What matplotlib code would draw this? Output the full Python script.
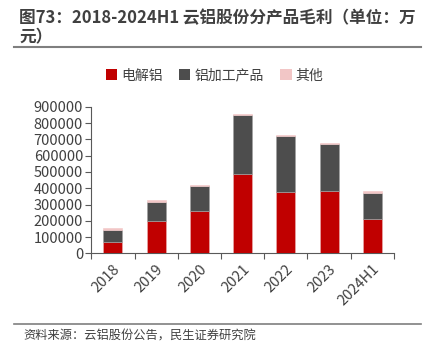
import matplotlib
matplotlib.use("Agg")
import matplotlib.pyplot as plt
import numpy as np
from matplotlib.lines import Line2D
from matplotlib.patches import Patch

plt.rcParams['font.family'] = ['Noto Sans CJK SC', 'DejaVu Sans']

categories = ["2018", "2019", "2020", "2021", "2022", "2023", "2024H1"]
electrolytic = [70000, 202000, 263000, 490000, 380000, 382000, 211000]
processed = [73000, 116000, 152000, 357000, 339000, 288000, 163000]
others = [14000, 11000, 6000, 8000, 8000, 8000, 10000]
series_names = ["电解铝", "铝加工产品", "其他"]
yticks = [0, 100000, 200000, 300000, 400000, 500000, 600000, 700000, 800000, 900000]

colors = ["#C00000", "#4D4D4D", "#F2C6C6"]

fig = plt.figure(figsize=(4.29, 3.56), dpi=100)
ax = fig.add_axes([0.213, 0.288, 0.705, 0.412])

x = np.arange(len(categories))
w = 0.44
e = np.array(electrolytic)
p = np.array(processed)
o = np.array(others)
ax.bar(x, e, w, color=colors[0], edgecolor="#e8b0b0", linewidth=0.4, zorder=3)
ax.bar(x, p, w, bottom=e, color=colors[1], edgecolor="#a0a0a0", linewidth=0.4, zorder=3)
ax.bar(x, o, w, bottom=e + p, color=colors[2], edgecolor=colors[2], linewidth=0.4, zorder=3)

ax.set_xlim(-0.5, len(categories) - 0.5)
ax.set_ylim(0, 900000)
ax.set_yticks(yticks)
ax.set_yticklabels([str(v) for v in yticks], fontsize=10.5, color="#404040")

ax.set_xticks(x)
ax.set_xticklabels(categories, rotation=45, ha="right", rotation_mode="anchor",
                   fontsize=10.5, color="#404040")
ax.tick_params(axis="x", length=0, pad=6)
ax.set_xticks(np.arange(-0.5, len(categories)), minor=True)
ax.tick_params(axis="x", which="minor", length=4, color="#595959", width=0.8)
ax.tick_params(axis="y", length=4, color="#595959", width=0.8, pad=2)

for s in ["top", "right"]:
    ax.spines[s].set_visible(False)
for s in ["left", "bottom"]:
    ax.spines[s].set_color("#595959")
    ax.spines[s].set_linewidth(0.8)

handles = [Patch(facecolor=c, edgecolor="none") for c in colors]
fig.legend(handles, series_names, loc="center", bbox_to_anchor=(0.5, 0.788),
           ncol=3, frameon=False, fontsize=10, handlelength=0.8, handleheight=0.8,
           handletextpad=0.3, columnspacing=1.2, labelcolor="#404040")

fig.text(0.045, 0.975, "图73：2018-2024H1 云铝股份分产品毛利（单位：万\n元）",
         fontsize=12, fontweight="bold", color="#404040", va="top", ha="left",
         linespacing=1.1)
fig.add_artist(Line2D([0.033, 0.982], [0.868, 0.868], color="#7f7f7f", lw=1.5))
fig.add_artist(Line2D([0.033, 0.982], [0.09, 0.09], color="#7f7f7f", lw=1.2))
fig.text(0.054, 0.055, "资料来源：云铝股份公告，民生证券研究院", fontsize=8.8,
         color="#404040", va="center", ha="left")

fig.savefig("out.png", dpi=100)
